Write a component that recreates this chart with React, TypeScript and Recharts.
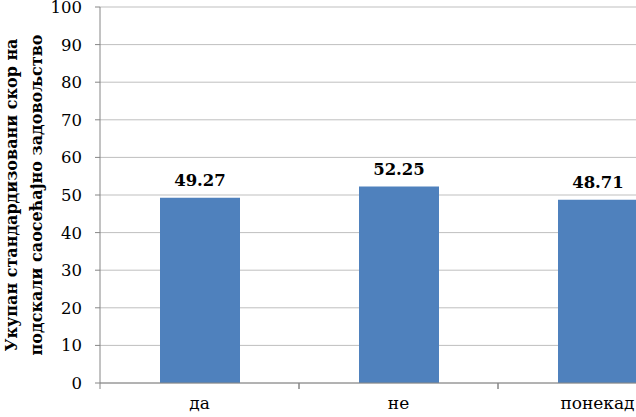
import { BarChart, Bar, XAxis, YAxis, CartesianGrid, LabelList, Label } from 'recharts';

const categories = ['да', 'не', 'понекад'];
const scores = [49.27, 52.25, 48.71];
const yTicks = [0, 10, 20, 30, 40, 50, 60, 70, 80, 90, 100];
const titleLines = ['Укупан стандардизовани скор на', 'подскали саосећајно задовољство'];

const FONT = '"DejaVu Serif", "Liberation Serif", serif';
// the original plot runs past the right edge of the picture, so the chart is wider than the frame
const W = 700;
const H = 417;
const Y_W = 100;
const M_RIGHT = 3;
const BAND = (W - Y_W - M_RIGHT) / categories.length;
const TICK_SIZE = 6;
const TICK_MARGIN = 8;

const data = categories.map((name, i) => ({ name, value: scores[i] }));

const CategoryTick = (props: any) => {
  const { x, y, payload } = props;
  const top = y - TICK_MARGIN - TICK_SIZE;
  return (
    <g>
      <line x1={x - BAND / 2} x2={x - BAND / 2} y1={top} y2={top + TICK_SIZE} stroke="#868686" />
      <line x1={x + BAND / 2} x2={x + BAND / 2} y1={top} y2={top + TICK_SIZE} stroke="#868686" />
      <text x={x} y={y} dy="0.71em" textAnchor="middle" style={{ fontFamily: FONT, fontSize: 17 }} fill="#000">
        {payload.value}
      </text>
    </g>
  );
};

const NumberTick = (props: any) => {
  const { x, y, payload } = props;
  return (
    <text x={x} y={y} dy="0.36em" textAnchor="end" style={{ fontFamily: FONT, fontSize: 16.5 }} fill="#000">
      {payload.value}
    </text>
  );
};

const AxisTitle = (props: any) => {
  const vb = props.viewBox || {};
  const cy = vb.y + vb.height / 2;
  return (
    <g>
      {titleLines.map((line, i) => {
        const bx = 17 + i * 25;
        return (
          <text
            key={i}
            x={bx}
            y={cy}
            transform={`rotate(-90 ${bx} ${cy})`}
            textAnchor="middle"
            style={{ fontFamily: FONT, fontWeight: 'bold', fontSize: 16 }}
            fill="#000"
          >
            {line}
          </text>
        );
      })}
    </g>
  );
};

export default function App() {
  return (
    <div style={{ position: 'absolute', left: 0, top: 0, width: 636, height: 417, overflow: 'hidden', background: '#fff' }}>
      <BarChart width={W} height={H} data={data} margin={{ top: 7, right: M_RIGHT, bottom: 0, left: 0 }}>
        <CartesianGrid vertical={false} stroke="#BFBFBF" />
        <XAxis
          dataKey="name"
          height={34}
          stroke="#868686"
          tickLine={false}
          tickSize={TICK_SIZE}
          tickMargin={TICK_MARGIN}
          tick={<CategoryTick />}
          interval={0}
        />
        <YAxis
          width={Y_W}
          domain={[0, 100]}
          ticks={yTicks}
          interval={0}
          stroke="#868686"
          tickSize={5}
          tickMargin={13}
          tick={<NumberTick />}
        >
          <Label content={<AxisTitle />} />
        </YAxis>
        <Bar dataKey="value" fill="#4F81BD" barSize={80} isAnimationActive={false}>
          <LabelList
            dataKey="value"
            position="top"
            offset={12}
            formatter={(v: any) => Number(v).toFixed(2)}
            style={{ fontFamily: FONT, fontWeight: 'bold', fontSize: 16.5, fill: '#000' }}
          />
        </Bar>
      </BarChart>
    </div>
  );
}
